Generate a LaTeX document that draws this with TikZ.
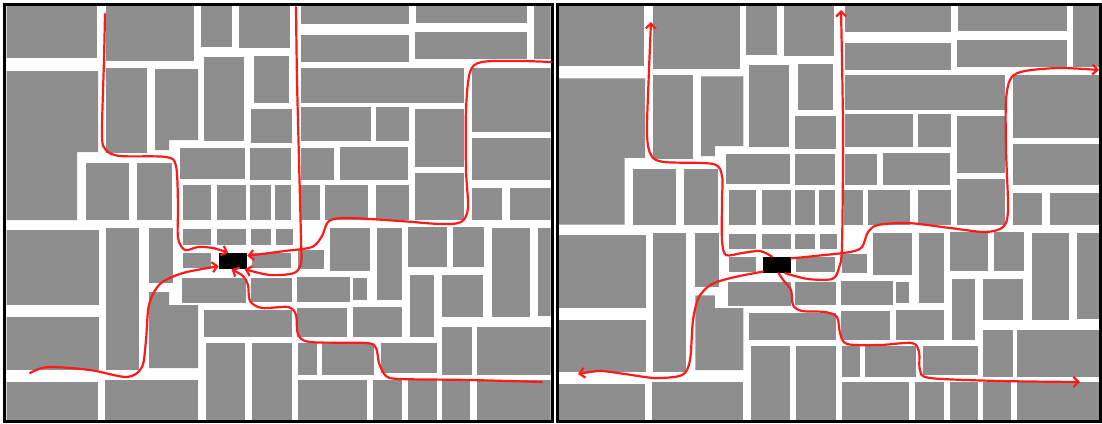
\documentclass[tikz,border=0pt]{standalone}
\usepackage{tikz}
\usepackage{xcolor}
\usetikzlibrary{arrows.meta}
\definecolor{BlockGray}{HTML}{8E8E8E}
\definecolor{RouteRed}{HTML}{FF1A1A}

% city blocks of one panel, in pixel units (y down)
\newcommand{\cityblocks}{%
    \foreach \xa/\ya/\xb/\yb in {
        0/-10/97/58, 106/-10/194/61, 201/-10/232/47, 239/-10/290/48,
        301/-10/409/24, 416/-10/527/23, 534/-10/565/59,
        301/35/409/62, 415/32/527/59,
        106/68/147/153, 204/57/244/141, 254/56/289/103,
        301/68/464/103, 472/68/565/132,
        251/109/292/143, 301/107/371/141, 376/107/409/141,
        415/109/464/167, 472/138/565/180,
        180/148/245/179, 250/148/291/180, 301/148/334/180, 340/147/408/180,
        86/163/129/220, 137/163/172/220,
        183/185/211/220, 217/185/246/220, 250/185/271/220, 275/185/291/220,
        300/185/320/220, 325/185/368/220, 376/185/409/220, 415/173/464/220,
        472/188/502/220, 510/188/565/220,
        0/230/99/305, 106/228/139/370, 149/228/173/283,
        183/229/211/245, 217/229/246/245, 251/229/271/245, 276/229/293/245,
        298/250/324/269, 330/228/370/271, 377/228/402/300,
        408/227/447/267, 453/227/484/267, 492/228/530/317, 538/228/565/316,
        183/253/211/268, 252/253/291/268,
        182/278/246/303, 251/278/292/302, 297/277/350/302, 353/278/367/300,
        410/275/434/337, 442/275/483/317,
        0/317/99/370, 204/310/292/337, 297/308/347/337, 353/307/402/337,
        442/327/472/375, 477/327/565/375,
        206/343/245/440, 252/343/292/440, 298/343/317/375, 322/343/374/375,
        381/343/437/373,
        0/382/98/440, 105/380/198/440, 298/380/367/440, 373/380/402/440,
        408/380/437/440, 442/380/470/440, 477/380/565/440
    } {
        \fill[BlockGray] (\xa,\ya) rectangle (\xb,\yb);
    }
    % blocks that are not plain rectangles
    \fill[BlockGray] (0,71) -- (98,71) -- (98,152) -- (77,152) -- (77,220) -- (0,220) -- cycle;
    \fill[BlockGray] (155,69) -- (198,69) -- (198,140) -- (169,140) -- (169,150) -- (155,150) -- cycle;
    \fill[BlockGray] (149,292) -- (169,292) -- (169,305) -- (198,305) -- (198,368) -- (149,368) -- cycle;
}

\begin{document}
\begin{tikzpicture}[x=1pt, y=-1pt,
    route/.style={RouteRed, line width=2.2pt, line cap=round, line join=round,
        -{Straight Barb[length=5pt, width=10pt]}},
    car/.style={fill=black, minimum width=28pt, minimum height=16pt, inner sep=0pt}]
    \useasboundingbox (0,0) rectangle (1102,423);

    % left panel
    \begin{scope}
        \clip (6.5,5.5) rectangle (550.5,420);
        \cityblocks
    \end{scope}
    \draw[line width=3pt] (4.7,4) rectangle (552,421.5);

    % right panel (same map, slightly smaller)
    \begin{scope}
        \clip (559,5.5) rectangle (1099,420);
        \begin{scope}[shift={(549,8.7)}, scale=0.982]
            \cityblocks
        \end{scope}
    \end{scope}
    \draw[line width=3pt] (557.5,4) rectangle (1100.5,421.5);

    % cars
    \node[car] (carL) at (233,261) {};
    \node[car] (carR) at (777,265) {};

    % routes coming in (left)
    \coordinate (nwL) at (105,14);
    \coordinate (nL) at (296,7);
    \coordinate (eL) at (551,62);
    \coordinate (swL) at (30,373);
    \coordinate (seL) at (542,382);

    \draw[route] plot[smooth, tension=0.5] coordinates {(nwL) (104,60) (102,135) (106,150) (120,156)
        (166,157) (176,166) (178,205) (178,238) (185,250) (198,247) (213,248) (carL.120)};
    \draw[route] plot[smooth, tension=0.5] coordinates {(nL) (297,80) (299,160) (301,240) (301,263)
        (294,273) (270,275) (carL.-35)};
    \draw[route] plot[smooth, tension=0.5] coordinates {(eL) (520,61) (482,62) (470,72) (466,110)
        (466,170) (468,208) (461,222) (440,224) (400,221) (348,218) (329,221) (322,236) (312,247)
        (285,251) (carL.20)};
    \draw[route] plot[smooth, tension=0.5] coordinates {(swL) (48,367) (90,370) (127,377) (142,367)
        (146,340) (149,305) (160,284) (183,273) (carL.200)};
    \draw[route] plot[smooth, tension=0.5] coordinates {(seL) (470,380) (400,379) (386,376) (379,363)
        (376,348) (366,343) (310,342) (298,334) (296,315) (288,307) (262,308) (250,301) (248,285)
        (243,276) (carL.-100)};

    % routes going out (right)
    \coordinate (nwR) at (651,22);
    \coordinate (nR) at (841,10);
    \coordinate (eR) at (1099,70);
    \coordinate (swR) at (578,374);
    \coordinate (seR) at (1080,382);

    \draw[route] plot[smooth, tension=0.5] coordinates {(carR.120) (760,251) (742,253) (726,255)
        (722,240) (722,200) (722,176) (713,164) (664,162) (651,155) (647,133) (649,70) (nwR)};
    \draw[route] plot[smooth, tension=0.5] coordinates {(carR.-45) (808,279) (832,279) (839,268)
        (842,245) (843,130) (nR)};
    \draw[route] plot[smooth, tension=0.5] coordinates {(carR.25) (815,256) (850,252) (862,247)
        (868,232) (878,225) (908,223) (950,228) (985,232) (1003,227) (1008,210) (1006,150)
        (1006,100) (1011,78) (1025,71) (1060,68) (eR)};
    \draw[route] plot[smooth, tension=0.5] coordinates {(carR.205) (735,277) (712,284) (699,297)
        (693,320) (690,360) (682,375) (655,378) (625,374) (600,371) (swR)};
    \draw[route] plot[smooth, tension=0.5] coordinates {(carR.-80) (784,281) (791,290) (793,305)
        (802,311) (825,312) (837,317) (840,333) (847,344) (880,345) (912,343) (919,352) (920,370)
        (930,378) (1000,381) (seR)};
\end{tikzpicture}
\end{document}
